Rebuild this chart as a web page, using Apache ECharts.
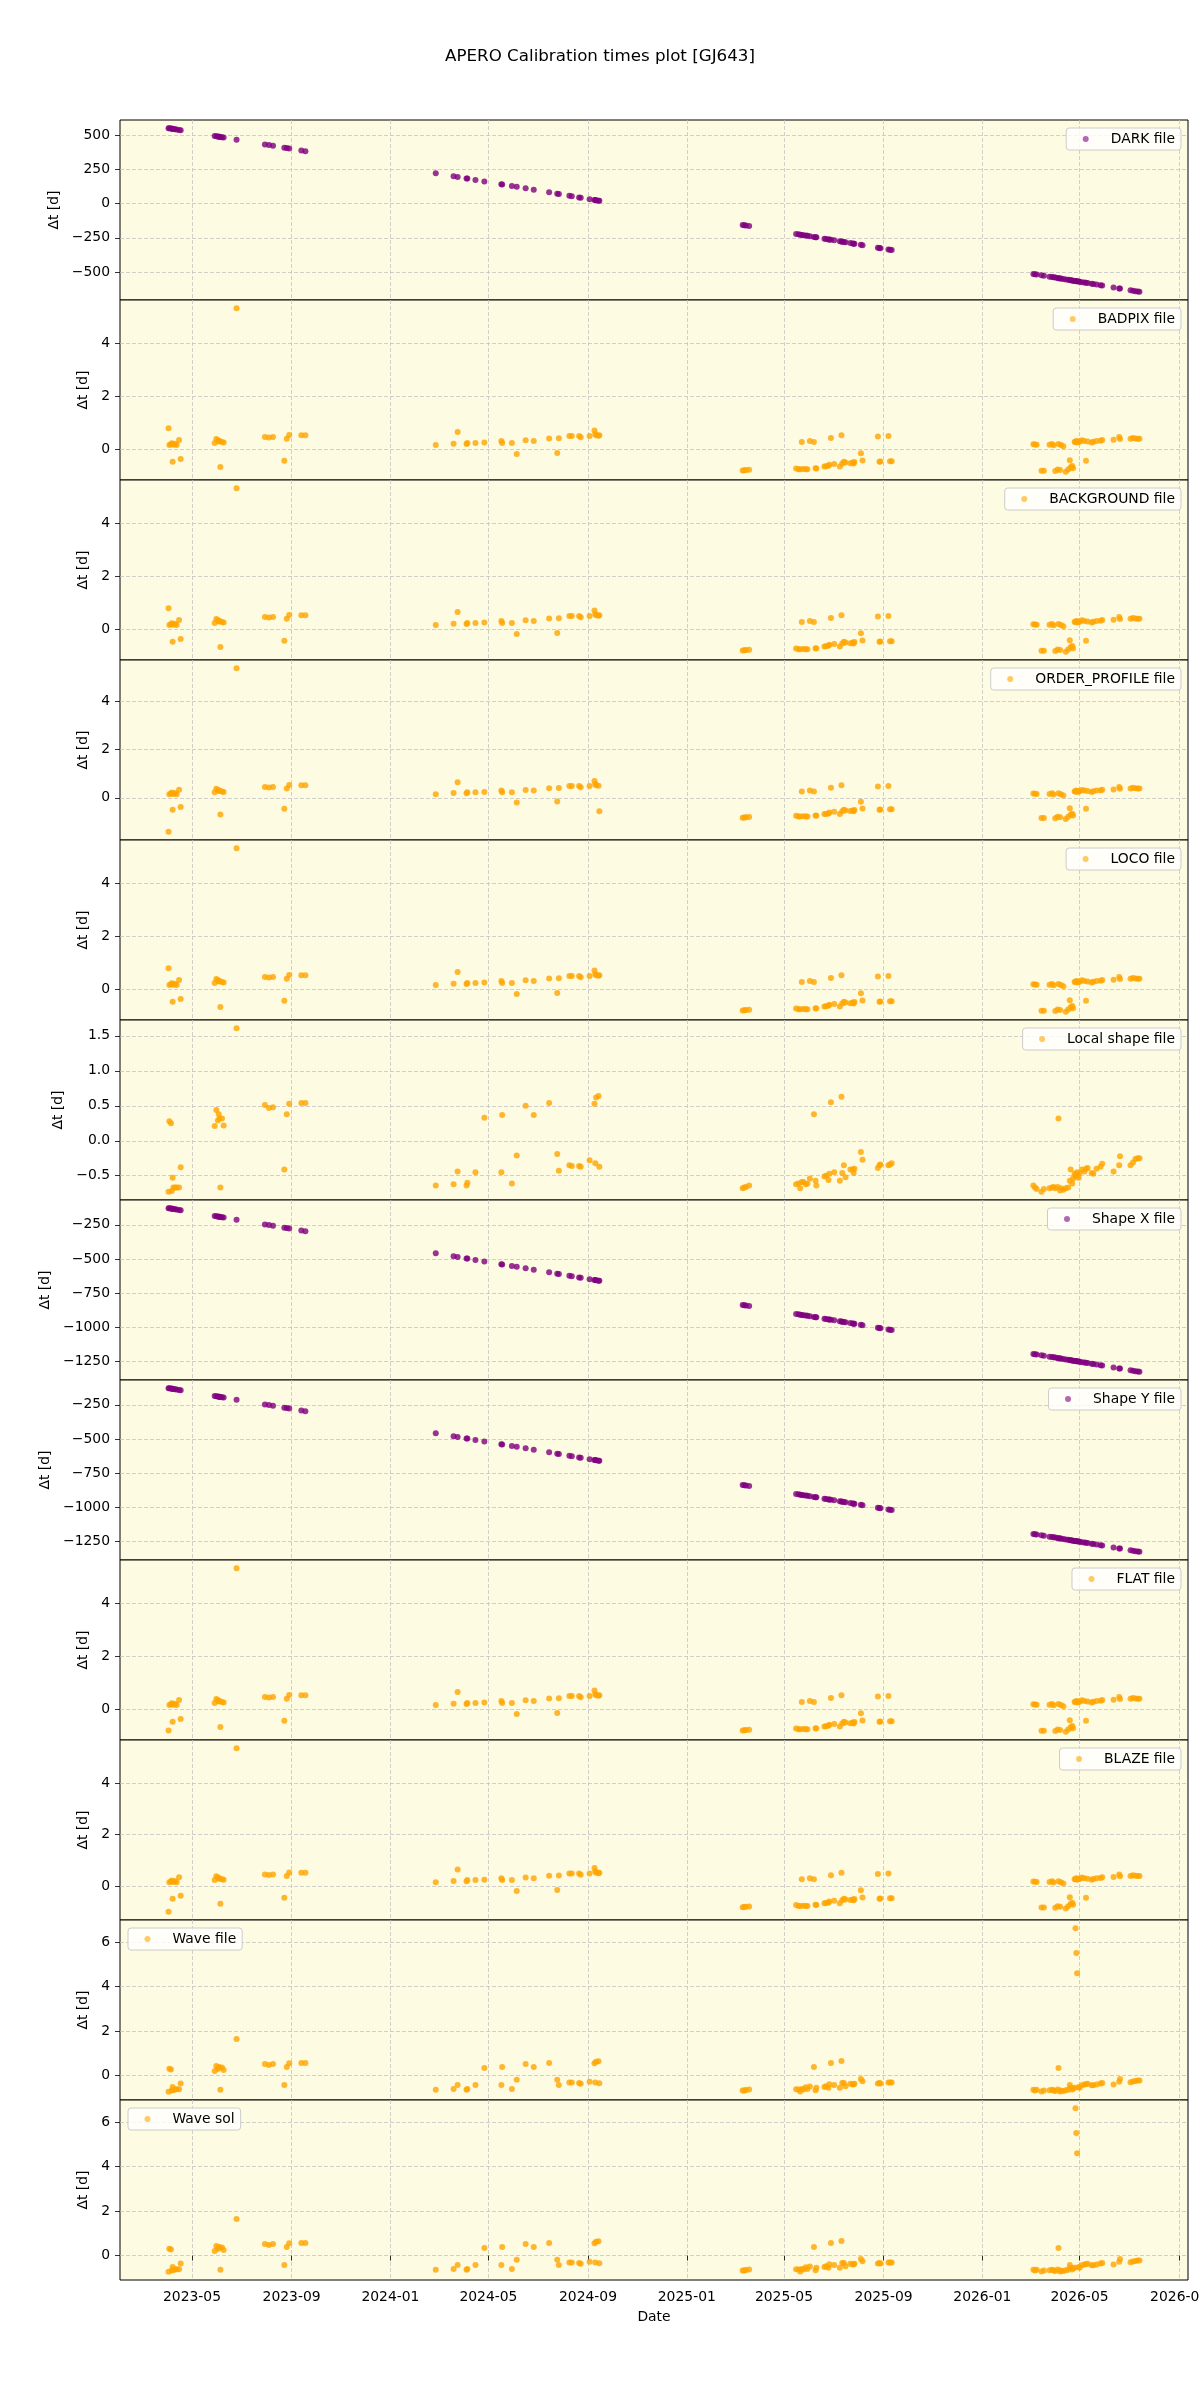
<!DOCTYPE html>
<html>
<head>
<meta charset="utf-8">
<script src="https://cdn.jsdelivr.net/npm/echarts@6/dist/echarts.min.js"></script>
<style>
html,body{margin:0;padding:0;background:#ffffff;}
#chart{width:1200px;height:2400px;}
</style>
</head>
<body>
<div id="chart"></div>
<script>
// ---------- DATA ----------
const obsDates = [
  '2023-04-02','2023-04-03','2023-04-05','2023-04-06','2023-04-07','2023-04-08','2023-04-10','2023-04-12','2023-04-15','2023-04-17',
  '2023-05-29','2023-05-31','2023-06-02','2023-06-03','2023-06-04','2023-06-05','2023-06-07','2023-06-09','2023-06-25',
  '2023-07-30','2023-08-04','2023-08-09','2023-08-23','2023-08-26','2023-08-29','2023-09-13','2023-09-18',
  '2024-02-26','2024-03-19','2024-03-24','2024-04-04','2024-04-05','2024-04-15','2024-04-26','2024-05-17','2024-05-18','2024-05-30',
  '2024-06-05','2024-06-16','2024-06-26','2024-07-15','2024-07-25','2024-07-27','2024-08-09','2024-08-12','2024-08-21','2024-08-23',
  '2024-09-03','2024-09-09','2024-09-10','2024-09-11','2024-09-14','2024-09-15',
  '2025-03-11','2025-03-13','2025-03-15','2025-03-19',
  '2025-05-16','2025-05-19','2025-05-21','2025-05-23','2025-05-25','2025-05-28','2025-05-30','2025-06-02','2025-06-07','2025-06-09',
  '2025-06-10','2025-06-20','2025-06-22','2025-06-25','2025-06-26','2025-06-28','2025-07-02','2025-07-09','2025-07-11','2025-07-12',
  '2025-07-14','2025-07-16','2025-07-22','2025-07-25','2025-07-26','2025-07-27','2025-08-04','2025-08-06','2025-08-25','2025-08-27',
  '2025-08-28','2025-09-07','2025-09-09','2025-09-11',
  '2026-03-05','2026-03-07','2026-03-09','2026-03-15','2026-03-18','2026-03-25','2026-03-28','2026-03-30','2026-04-01','2026-04-04',
  '2026-04-05','2026-04-07','2026-04-08','2026-04-11','2026-04-14','2026-04-17','2026-04-19','2026-04-20','2026-04-22','2026-04-23',
  '2026-04-25','2026-04-26','2026-04-27','2026-04-28','2026-04-30','2026-05-01','2026-05-04','2026-05-07','2026-05-09','2026-05-11',
  '2026-05-16','2026-05-18','2026-05-22','2026-05-27','2026-05-29','2026-06-12','2026-06-19','2026-06-20','2026-07-03','2026-07-06',
  '2026-07-09','2026-07-12','2026-07-14'
];

const darkVals = [
  553,552,550,549,548,547,545,543,540,538,
  496,494,492,491,490,489,487,485,469,
  434,429,424,410,407,404,389,384,
  223,201,196,185,184,174,163,142,141,129,123,112,102,83,73,71,58,55,46,44,33,27,26,25,22,21,
  -156,-158,-160,-164,
  -222,-225,-227,-229,-231,-234,-236,-239,-244,-246,-247,-257,-259,-262,-263,-265,-269,-276,-278,-279,
  -281,-283,-289,-292,-293,-294,-302,-304,-323,-325,-326,-336,-338,-340,
  -515,-517,-519,-525,-528,-535,-538,-540,-542,-545,-546,-548,-549,-552,-555,-558,-560,-561,-563,-564,
  -566,-567,-568,-569,-571,-572,-575,-578,-580,-582,-587,-589,-593,-598,-600,-614,-621,-622,-635,-638,
  -641,-644,-646
];

const badpixVals = [
  0.79,0.15,0.18,0.22,-0.49,0.16,0.2,0.15,0.34,-0.38,
  0.23,0.38,0.33,0.28,0.3,-0.69,0.26,0.24,5.35,
  0.45,0.43,0.45,-0.45,0.39,0.53,0.52,0.52,
  0.15,0.2,0.64,0.19,0.23,0.23,0.24,0.3,0.23,0.23,-0.19,0.33,0.3,0.4,-0.15,0.41,0.49,0.49,0.49,0.44,0.49,0.7,0.57,0.52,0.5,0.52,
  -0.82,-0.81,-0.8,-0.79,
  -0.74,-0.77,-0.77,0.26,-0.76,-0.77,-0.77,0.3,0.26,-0.73,-0.74,-0.67,-0.66,-0.64,-0.6,0.42,-0.57,-0.67,0.52,-0.55,
  -0.49,-0.52,-0.54,-0.52,-0.55,-0.5,-0.16,-0.44,0.47,-0.49,-0.48,0.49,-0.47,-0.47,
  0.18,0.17,0.16,-0.83,-0.83,0.16,0.19,0.14,-0.84,-0.78,0.19,-0.8,0.15,0.1,-0.87,-0.78,-0.43,-0.7,-0.65,-0.73,
  0.26,0.27,0.3,0.24,0.28,0.27,0.33,0.3,-0.45,0.28,0.24,0.27,0.3,0.31,0.34,0.35,0.45,0.38,0.39,0.42,
  0.4,0.39,0.39
];
const backgroundVals = badpixVals;
const locoVals = badpixVals;

const orderProfileVals = [
  -1.4,0.15,0.18,0.22,-0.49,0.16,0.2,0.15,0.34,-0.38,
  0.23,0.38,0.33,0.28,0.3,-0.69,0.26,0.24,5.35,
  0.45,0.43,0.45,-0.45,0.39,0.53,0.52,0.52,
  0.15,0.2,0.64,0.19,0.23,0.23,0.24,0.3,0.23,0.23,-0.19,0.33,0.3,0.4,-0.15,0.41,0.49,0.49,0.49,0.44,0.49,0.7,0.57,0.52,0.5,-0.55,
  -0.82,-0.81,-0.8,-0.79,
  -0.74,-0.77,-0.77,0.26,-0.76,-0.77,-0.77,0.3,0.26,-0.73,-0.74,-0.67,-0.66,-0.64,-0.6,0.42,-0.57,-0.67,0.52,-0.55,
  -0.49,-0.52,-0.54,-0.52,-0.55,-0.5,-0.16,-0.44,0.47,-0.49,-0.48,0.49,-0.47,-0.47,
  0.18,0.17,0.16,-0.83,-0.83,0.16,0.19,0.14,-0.84,-0.78,0.19,-0.8,0.15,0.1,-0.87,-0.78,-0.43,-0.7,-0.65,-0.73,
  0.26,0.27,0.3,0.24,0.28,0.27,0.33,0.3,-0.45,0.28,0.24,0.27,0.3,0.31,0.34,0.35,0.45,0.38,0.39,0.42,
  0.4,0.39,0.39
];

const flatVals = [
  -0.82,0.15,0.18,0.22,-0.49,0.16,0.2,0.15,0.34,-0.38,
  0.23,0.38,0.33,0.28,0.3,-0.69,0.26,0.24,5.35,
  0.45,0.43,0.45,-0.45,0.39,0.53,0.52,0.52,
  0.15,0.2,0.64,0.19,0.23,0.23,0.24,0.3,0.23,0.23,-0.19,0.33,0.3,0.4,-0.15,0.41,0.49,0.49,0.49,0.44,0.49,0.7,0.57,0.52,0.5,0.52,
  -0.82,-0.81,-0.8,-0.79,
  -0.74,-0.77,-0.77,0.26,-0.76,-0.77,-0.77,0.3,0.26,-0.73,-0.74,-0.67,-0.66,-0.64,-0.6,0.42,-0.57,-0.67,0.52,-0.55,
  -0.49,-0.52,-0.54,-0.52,-0.55,-0.5,-0.16,-0.44,0.47,-0.49,-0.48,0.49,-0.47,-0.47,
  0.18,0.17,0.16,-0.83,-0.83,0.16,0.19,0.14,-0.84,-0.78,0.19,-0.8,0.15,0.1,-0.87,-0.78,-0.43,-0.7,-0.65,-0.73,
  0.26,0.27,0.3,0.24,0.28,0.27,0.33,0.3,-0.45,0.28,0.24,0.27,0.3,0.31,0.34,0.35,0.45,0.38,0.39,0.42,
  0.4,0.39,0.39
];

const blazeVals = [
  -1.0,0.15,0.18,0.22,-0.49,0.16,0.2,0.15,0.34,-0.38,
  0.23,0.38,0.33,0.28,0.3,-0.69,0.26,0.24,5.35,
  0.45,0.43,0.45,-0.45,0.39,0.53,0.52,0.52,
  0.15,0.2,0.64,0.19,0.23,0.23,0.24,0.3,0.23,0.23,-0.19,0.33,0.3,0.4,-0.15,0.41,0.49,0.49,0.49,0.44,0.49,0.7,0.57,0.52,0.5,0.52,
  -0.82,-0.81,-0.8,-0.79,
  -0.74,-0.77,-0.77,0.26,-0.76,-0.77,-0.77,0.3,0.26,-0.73,-0.74,-0.67,-0.66,-0.64,-0.6,0.42,-0.57,-0.67,0.52,-0.55,
  -0.49,-0.52,-0.54,-0.52,-0.55,-0.5,-0.16,-0.44,0.47,-0.49,-0.48,0.49,-0.47,-0.47,
  0.18,0.17,0.16,-0.83,-0.83,0.16,0.19,0.14,-0.84,-0.78,0.19,-0.8,0.15,0.1,-0.87,-0.78,-0.43,-0.7,-0.65,-0.73,
  0.26,0.27,0.3,0.24,0.28,0.27,0.33,0.3,-0.45,0.28,0.24,0.27,0.3,0.31,0.34,0.35,0.45,0.38,0.39,0.42,
  0.4,0.39,0.39
];

const localShapeVals = [
  -0.73,0.28,0.25,-0.72,-0.53,-0.67,-0.67,-0.67,-0.67,-0.38,
  0.21,0.44,0.29,0.38,0.32,-0.67,0.32,0.22,1.61,
  0.51,0.47,0.48,-0.41,0.38,0.53,0.54,0.54,
  -0.64,-0.62,-0.44,-0.64,-0.6,-0.45,0.33,-0.45,0.37,-0.61,-0.21,0.5,0.37,0.54,-0.19,-0.43,-0.35,-0.36,-0.36,-0.37,-0.28,0.53,-0.32,0.62,0.64,-0.37,
  -0.68,-0.67,-0.66,-0.64,
  -0.62,-0.61,-0.68,-0.59,-0.59,-0.62,-0.61,-0.54,0.38,-0.57,-0.64,-0.51,-0.5,-0.56,-0.47,0.55,-0.45,-0.57,0.63,-0.46,
  -0.35,-0.52,-0.41,-0.41,-0.46,-0.4,-0.16,-0.27,-0.39,-0.35,-0.34,-0.35,-0.34,-0.32,
  -0.64,-0.67,-0.69,-0.73,-0.69,-0.68,-0.67,-0.66,-0.68,-0.66,0.32,-0.71,-0.68,-0.7,-0.68,-0.67,-0.57,-0.41,-0.61,-0.54,
  -0.47,-0.5,-0.51,-0.45,-0.53,-0.46,-0.41,-0.44,-0.4,-0.39,-0.46,-0.47,-0.4,-0.37,-0.33,-0.44,-0.35,-0.22,-0.35,-0.31,
  -0.26,-0.25,-0.25
];

const shapeXVals = [
  -128,-129,-131,-132,-133,-134,-136,-138,-141,-143,
  -185,-187,-189,-190,-191,-192,-194,-196,-212,
  -247,-252,-257,-271,-274,-277,-292,-297,
  -458,-480,-485,-496,-497,-507,-518,-539,-540,-552,-558,-569,-579,-598,-608,-610,-623,-626,-635,-637,-648,-654,-655,-656,-659,-660,
  -837,-839,-841,-845,
  -903,-906,-908,-910,-912,-915,-917,-920,-925,-927,-928,-938,-940,-943,-944,-946,-950,-957,-959,-960,
  -962,-964,-970,-973,-974,-975,-983,-985,-1004,-1006,-1007,-1017,-1019,-1021,
  -1196,-1198,-1200,-1206,-1209,-1216,-1219,-1221,-1223,-1226,-1227,-1229,-1230,-1233,-1236,-1239,-1241,-1242,-1244,-1245,
  -1247,-1248,-1249,-1250,-1252,-1253,-1256,-1259,-1261,-1263,-1268,-1270,-1274,-1279,-1281,-1295,-1302,-1303,-1316,-1319,
  -1322,-1325,-1327
];
const shapeYVals = shapeXVals;

const waveFileVals = [
  -0.73,0.31,0.27,-0.67,-0.51,-0.65,-0.63,-0.62,-0.62,-0.36,
  0.21,0.43,0.3,0.39,0.36,-0.64,0.36,0.25,1.65,
  0.52,0.48,0.52,-0.42,0.39,0.55,0.57,0.57,
  -0.64,-0.6,-0.42,-0.64,-0.6,-0.42,0.34,-0.42,0.39,-0.6,-0.19,0.52,0.39,0.57,-0.19,-0.42,-0.31,-0.31,-0.33,-0.37,-0.28,0.55,-0.31,0.62,0.65,-0.35,
  -0.67,-0.67,-0.65,-0.63,
  -0.61,-0.63,-0.72,-0.6,-0.63,-0.52,-0.6,-0.49,0.39,-0.66,-0.55,-0.51,-0.48,-0.55,-0.39,0.57,-0.42,-0.55,0.66,-0.33,
  -0.33,-0.48,-0.37,-0.4,-0.39,-0.37,-0.15,-0.25,-0.36,-0.33,-0.36,-0.31,-0.31,-0.31,
  -0.64,-0.67,-0.64,-0.72,-0.67,-0.66,-0.64,-0.67,-0.69,-0.63,0.34,-0.72,-0.67,-0.69,-0.66,-0.64,-0.42,-0.55,-0.63,-0.57,
  -0.55,6.63,5.51,4.6,-0.51,-0.55,-0.43,-0.4,-0.39,-0.37,-0.43,-0.43,-0.4,-0.36,-0.33,-0.4,-0.28,-0.15,-0.3,-0.27,
  -0.24,-0.22,-0.22
];
const waveSolVals = waveFileVals;

const xTickLabels = ['2023-05','2023-09','2024-01','2024-05','2024-09','2025-01','2025-05','2025-09','2026-01','2026-05','2026-09'];
const darkTicks = [-500,-250,0,250,500];
const nightlyTicks = [0,2,4];
const localShapeTicks = [-0.5,0,0.5,1.0,1.5];
const shapeTicks = [-1250,-1000,-750,-500,-250];
const waveTicks = [0,2,4,6];

// ---------- CHART ----------
const PURPLE = '#800080', ORANGE = '#FFA500';
const panels = [
  {name:'DARK file', vals:darkVals, color:PURPLE, ticks:darkTicks, dec:0, gap:49, leg:'right'},
  {name:'BADPIX file', vals:badpixVals, color:ORANGE, ticks:nightlyTicks, dec:0, gap:21, leg:'right'},
  {name:'BACKGROUND file', vals:backgroundVals, color:ORANGE, ticks:nightlyTicks, dec:0, gap:21, leg:'right'},
  {name:'ORDER_PROFILE file', vals:orderProfileVals, color:ORANGE, ticks:nightlyTicks, dec:0, gap:21, leg:'right'},
  {name:'LOCO file', vals:locoVals, color:ORANGE, ticks:nightlyTicks, dec:0, gap:21, leg:'right'},
  {name:'Local shape file', vals:localShapeVals, color:ORANGE, ticks:localShapeTicks, dec:1, gap:44, leg:'right'},
  {name:'Shape X file', vals:shapeXVals, color:PURPLE, ticks:shapeTicks, dec:0, gap:57, leg:'right'},
  {name:'Shape Y file', vals:shapeYVals, color:PURPLE, ticks:shapeTicks, dec:0, gap:57, leg:'right'},
  {name:'FLAT file', vals:flatVals, color:ORANGE, ticks:nightlyTicks, dec:0, gap:21, leg:'right'},
  {name:'BLAZE file', vals:blazeVals, color:ORANGE, ticks:nightlyTicks, dec:0, gap:21, leg:'right'},
  {name:'Wave file', vals:waveFileVals, color:ORANGE, ticks:waveTicks, dec:0, gap:21, leg:'left'},
  {name:'Wave sol', vals:waveSolVals, color:ORANGE, ticks:waveTicks, dec:0, gap:21, leg:'left'}
];

function parseLocal(s){const p=s.split('-').map(Number);return new Date(p[0],p[1]-1,p[2]||1).getTime();}
const xTickVals = xTickLabels.map(parseLocal);
const obsTimes = obsDates.map(parseLocal);

const FONT = 'DejaVu Sans';
const TOP0 = 120, PH = 180, LEFT = 120, PW = 1068;
const gridLine = {show:true, lineStyle:{type:[4,2], color:'#c4c4c4', width:0.8}};
function fmtY(dec){return v => (v < -1e-9 ? '\u2212' : '') + Math.abs(v).toFixed(dec);}
function fmtX(v){const d=new Date(v);return d.getFullYear()+'-'+String(d.getMonth()+1).padStart(2,'0');}
const pad5 = side => (v => side==='min' ? v.min - 0.05*(v.max-v.min) : v.max + 0.05*(v.max-v.min));

const grid=[], xAxis=[], yAxis=[], series=[], legend=[];
panels.forEach((p,i)=>{
  const top = TOP0 + PH*i;
  const last = i === panels.length-1;
  grid.push({left:LEFT, top:top, width:PW, height:PH, show:true, backgroundColor:'#fdfbe1', borderColor:'#000', borderWidth:1,
    containLabel:false, outerBoundsMode:'none'});
  xAxis.push({
    type:'value', gridIndex:i, min:pad5('min'), max:pad5('max'), scale:true,
    axisLine:{show:false},
    axisTick:{show:last, customValues:xTickVals, length:5, lineStyle:{color:'#000', width:0.8}},
    axisLabel:{show:last, customValues:xTickVals, formatter:fmtX, margin:10, fontSize:13.9, color:'#000', fontFamily:FONT, hideOverlap:false},
    splitLine:gridLine,
    name: last ? 'Date' : '', nameLocation:'middle', nameGap:30,
    nameTextStyle:{fontSize:13.9, color:'#000', fontFamily:FONT}
  });
  yAxis.push({
    type:'value', gridIndex:i, min:pad5('min'), max:pad5('max'), scale:true,
    axisLine:{show:false},
    axisTick:{show:true, customValues:p.ticks, length:5, lineStyle:{color:'#000', width:0.8}},
    axisLabel:{customValues:p.ticks, formatter:fmtY(p.dec), margin:10, fontSize:13.9, color:'#000', fontFamily:FONT},
    splitLine:gridLine,
    name:'\u0394t [d]', nameLocation:'middle', nameRotate:90, nameGap:p.gap,
    nameTextStyle:{fontSize:13.9, color:'#000', fontFamily:FONT}
  });
  series.push({
    type:'scatter', name:p.name, xAxisIndex:i, yAxisIndex:i,
    data: obsTimes.map((t,j)=>[t, p.vals[j]]),
    symbol:'circle', symbolSize:6,
    itemStyle:{color:p.color, opacity:0.8},
    silent:true
  });
  const lg = {
    data:[p.name], top: top + 8, orient:'horizontal', icon:'circle',
    itemWidth:6, itemHeight:6, itemGap:0,
    padding:[4,6,4,16.5], backgroundColor:'rgba(255,255,255,0.8)', borderColor:'#cccccc', borderWidth:1, borderRadius:3,
    formatter: n => '{s|}' + n,
    textStyle:{fontSize:13.9, color:'#000', fontFamily:FONT, rich:{s:{width:17}}},
    itemStyle:{opacity:0.6}, selectedMode:false
  };
  if (p.leg === 'right') lg.right = 19; else lg.left = 128;
  legend.push(lg);
});

const chart = echarts.init(document.getElementById('chart'), null, {renderer:'canvas', width:1200, height:2400});
chart.setOption({
  animation:false,
  backgroundColor:'#ffffff',
  textStyle:{fontFamily:FONT},
  title:{text:'APERO Calibration times plot [GJ643]', left:'center', top:48, padding:0,
    textStyle:{fontSize:16.7, fontWeight:'normal', color:'#000', fontFamily:FONT}},
  grid, xAxis, yAxis, series, legend
});
</script>
</body>
</html>
